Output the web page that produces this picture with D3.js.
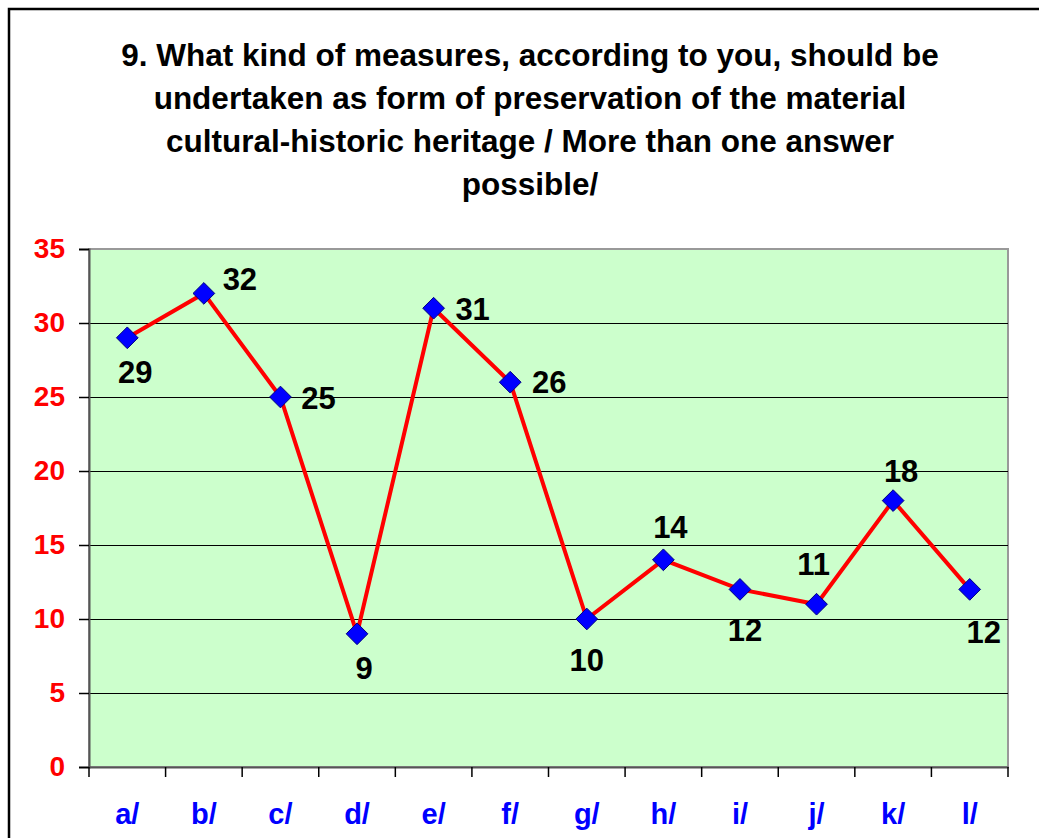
<!DOCTYPE html>
<html>
<head>
<meta charset="utf-8">
<script src="https://cdn.jsdelivr.net/npm/d3@7"></script>
<style>
  body { margin: 0; background: #fff; }
  svg { display: block; font-family: Arial, "Liberation Sans", sans-serif; }
</style>
</head>
<body>
<svg width="1039" height="838"></svg>
<script>
const titleLines = [
  '9. What kind of measures, according to you, should be',
  'undertaken as form of preservation of the material',
  'cultural-historic heritage / More than one answer',
  'possible/',
];
const categories = ['a/', 'b/', 'c/', 'd/', 'e/', 'f/', 'g/', 'h/', 'i/', 'j/', 'k/', 'l/'];
const values = [29, 32, 25, 9, 31, 26, 10, 14, 12, 11, 18, 12];
const yTicks = [0, 5, 10, 15, 20, 25, 30, 35];

// where each data label sits relative to its marker (as Excel placed them)
const labelShift = [
  [8, 35], [36, -14], [38, 1], [7, 35], [39, 1], [39, 0],
  [0, 41], [7, -32], [5, 41], [-3, -40], [8, -29], [14, 43],
];

const svg = d3.select('svg');
const plot = { left: 89, top: 249, right: 1008, bottom: 767 };

// outer chart border (runs off the right/bottom of the picture)
svg.append('rect')
  .attr('x', 9).attr('y', 9)
  .attr('width', 1060).attr('height', 860)
  .attr('fill', '#fff')
  .attr('stroke', '#000')
  .attr('stroke-width', 2.5);

svg.append('g')
  .selectAll('text')
  .data(titleLines)
  .enter()
  .append('text')
  .attr('x', 530)
  .attr('y', (d, i) => 66 + i * 43)
  .attr('text-anchor', 'middle')
  .style('font-size', '31.5px')
  .style('font-weight', 'bold')
  .text(d => d);

const x = d3.scaleBand()
  .domain(categories)
  .range([plot.left, plot.right]);

const y = d3.scaleLinear()
  .domain([0, 35])
  .range([plot.bottom, plot.top]);

svg.append('rect')
  .attr('x', plot.left).attr('y', plot.top)
  .attr('width', plot.right - plot.left)
  .attr('height', plot.bottom - plot.top)
  .attr('fill', '#ccffcc')
  .attr('stroke', '#999')
  .attr('stroke-width', 2);

svg.append('g')
  .attr('shape-rendering', 'crispEdges')
  .selectAll('line')
  .data(yTicks.filter(t => t > 0 && t < 35))
  .enter()
  .append('line')
  .attr('x1', plot.left).attr('x2', plot.right)
  .attr('y1', d => y(d)).attr('y2', d => y(d))
  .attr('stroke', '#000')
  .attr('stroke-width', 1);

const yAxis = svg.append('g')
  .attr('transform', `translate(${plot.left},0)`)
  .call(d3.axisLeft(y).tickValues(yTicks).tickSize(10).tickPadding(14));
yAxis.select('.domain').attr('stroke', '#555').attr('stroke-width', 2);
yAxis.selectAll('.tick line').attr('stroke', '#000').attr('stroke-width', 1.5);
yAxis.selectAll('text')
  .attr('fill', '#ff0000')
  .style('font-size', '28px')
  .style('font-weight', 'bold')
  .style('font-family', 'Arial, "Liberation Sans", sans-serif');

const xAxis = svg.append('g')
  .attr('transform', `translate(0,${plot.bottom})`)
  .call(d3.axisBottom(x).tickSize(0).tickPadding(36));
xAxis.select('.domain').attr('stroke', '#555').attr('stroke-width', 2);
xAxis.selectAll('text')
  .attr('fill', '#0000ff')
  .style('font-size', '29px')
  .style('font-weight', 'bold')
  .style('font-family', 'Arial, "Liberation Sans", sans-serif');

// category boundary ticks below the axis
xAxis.append('g')
  .selectAll('line')
  .data(categories.map(c => x(c)).concat([plot.right]))
  .enter()
  .append('line')
  .attr('x1', d => d).attr('x2', d => d)
  .attr('y1', 0).attr('y2', 10)
  .attr('stroke', '#000')
  .attr('stroke-width', 1.5);

const cx = (d, i) => x(categories[i]) + x.bandwidth() / 2;

const line = d3.line()
  .x((d, i) => cx(d, i))
  .y(d => y(d));

svg.append('path')
  .datum(values)
  .attr('d', line)
  .attr('fill', 'none')
  .attr('stroke', '#ff0000')
  .attr('stroke-width', 4);

const diamond = d3.symbol().type(d3.symbolDiamond2).size(300);

svg.append('g')
  .selectAll('path')
  .data(values)
  .enter()
  .append('path')
  .attr('d', diamond)
  .attr('transform', (d, i) => `translate(${cx(d, i)},${y(d)})`)
  .attr('fill', '#0000ff')
  .attr('stroke', '#000080')
  .attr('stroke-width', 1);

svg.append('g')
  .selectAll('text')
  .data(values)
  .enter()
  .append('text')
  .attr('x', (d, i) => cx(d, i) + labelShift[i][0])
  .attr('y', (d, i) => y(d) + labelShift[i][1])
  .attr('text-anchor', 'middle')
  .attr('dominant-baseline', 'central')
  .style('font-size', '31px')
  .style('font-weight', 'bold')
  .text(d => d);
</script>
</body>
</html>
